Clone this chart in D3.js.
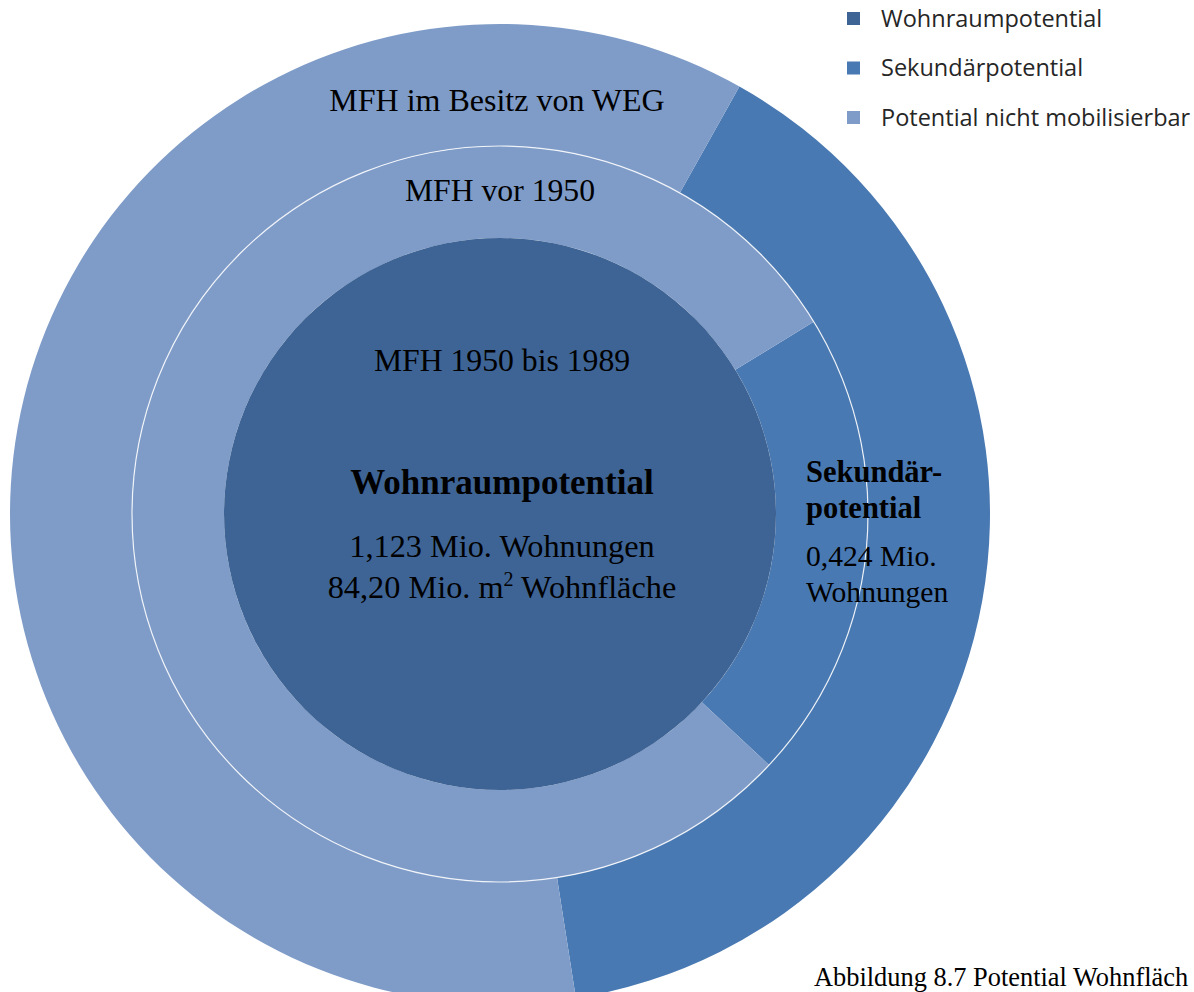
<!DOCTYPE html>
<html><head><meta charset="utf-8">
<script src="https://cdn.jsdelivr.net/npm/d3@7"></script>
<style>html,body{margin:0;padding:0;background:#fff;overflow:hidden}</style>
</head><body>
<svg id="chart" width="1194" height="992"></svg>
<script>
// Data
const seriesNames = ["Wohnraumpotential", "Sekundärpotential", "Potential nicht mobilisierbar"];
const innerValues = [100];                 // MFH 1950 bis 1989: Wohnraumpotential
const middleValues = [20.7, 79.3];         // MFH vor 1950: Sekundär, nicht mobilisierbar
const outerValues = [39.4, 60.6];          // MFH im Besitz von WEG: Sekundär, nicht mobilisierbar
const ringLabels = ["MFH 1950 bis 1989", "MFH vor 1950", "MFH im Besitz von WEG"];

const colors = {"Wohnraumpotential":"#3e6495","Sekundärpotential":"#4979b2","Potential nicht mobilisierbar":"#7f9cc8"};
const svg = d3.select("#chart");
const cx = 500, cy = 514;
const g = svg.append("g").attr("transform", `translate(${cx},${cy})`);
const deg = Math.PI/180;

function ring(values, names, start, r0, r1) {
  const pie = d3.pie().sort(null).startAngle(start*deg).endAngle(start*deg + 2*Math.PI);
  const arc = d3.arc().innerRadius(r0).outerRadius(r1);
  g.append("g").selectAll("path").data(pie(values)).join("path")
    .attr("d", arc).attr("fill", (d,i) => colors[names[i]]);
}
ring(outerValues, ["Sekundärpotential","Potential nicht mobilisierbar"], 29.25, 368, 490);
ring(middleValues, ["Sekundärpotential","Potential nicht mobilisierbar"], 58.5, 276, 368);
ring(innerValues, ["Wohnraumpotential"], 0, 0, 276);
g.append("circle").attr("r", 368).attr("fill","none").attr("stroke","#fff").attr("stroke-opacity",0.85).attr("stroke-width",1.2);

const serif = "'Liberation Serif','Times New Roman',serif";
function txt(x, y, s, size, weight, anchor) {
  return svg.append("text").attr("x",x).attr("y",y).attr("font-family",serif)
    .attr("font-size",size).attr("font-weight",weight||"normal").attr("text-anchor",anchor||"middle")
    .attr("fill","#000").text(s);
}
txt(497, 111, ringLabels[2], 32);
txt(500, 201, ringLabels[1], 31.7);
txt(502, 371, ringLabels[0], 31.7);
txt(502, 494, "Wohnraumpotential", 35, "bold");
txt(502, 557, "1,123 Mio. Wohnungen", 32.3);
const t = txt(502, 598, "84,20 Mio. m", 32.3);
t.append("tspan").attr("dy",-12).attr("font-size",20).text("2");
t.append("tspan").attr("dy",12).text(" Wohnfläche");
txt(806, 482, "Sekundär-", 30.5, "bold", "start");
txt(806, 518, "potential", 30.5, "bold", "start");
txt(806, 566, "0,424 Mio.", 29.6, "normal", "start");
txt(806, 602, "Wohnungen", 29.6, "normal", "start");
txt(814, 986, "Abbildung 8.7 Potential Wohnfläch", 26.4, "normal", "start");

// Legend
const leg = svg.append("g");
seriesNames.forEach((n,i) => {
  const y = 18.5 + i*49.5;
  leg.append("rect").attr("x",847).attr("y",y-6.5).attr("width",13).attr("height",13).attr("fill",colors[n]);
  leg.append("text").attr("x",881).attr("y",y+8).attr("font-family","'Open Sans',sans-serif")
    .attr("font-size",23.5).attr("fill","#262626").text(n);
});
</script>
</body></html>
